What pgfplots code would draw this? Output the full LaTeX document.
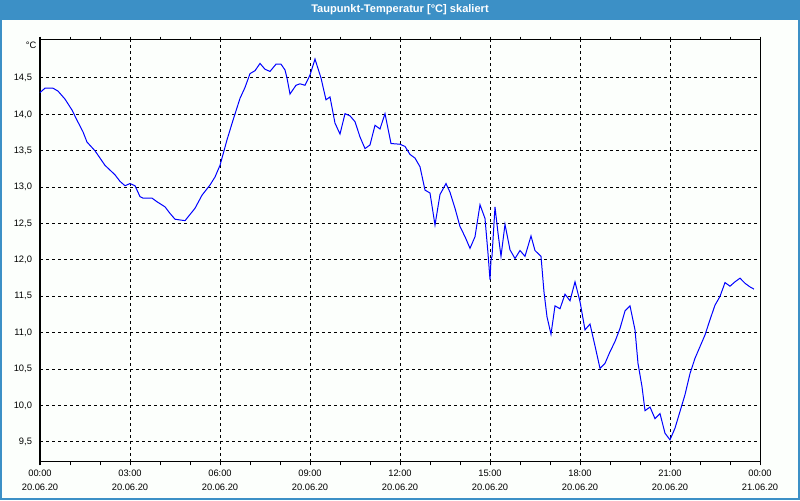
\documentclass[border=0pt]{standalone}
\usepackage{pgfplots}
\pgfplotsset{compat=1.18}
\usepackage{fontspec}
\setmainfont{Liberation Sans}
\definecolor{barblue}{RGB}{60,144,198}
\definecolor{bgc}{RGB}{252,255,252}
\begin{document}
\begin{tikzpicture}
\useasboundingbox (0,0) rectangle (600pt,375pt);
\fill[bgc] (0,0) rectangle (600pt,375pt);
\fill[barblue] (0,360pt) rectangle (600pt,375pt);
\draw[barblue, line width=1.5pt] (0.75pt,0.75pt) rectangle (599.25pt,374.25pt);
\node[text=white, font=\fontsize{8.3pt}{9pt}\selectfont\bfseries] at (300pt,367.5pt) {Taupunkt-Temperatur [°C] skaliert};
\begin{axis}[
  at={(30pt,28.5pt)}, anchor=south west,
  scale only axis, width=540pt, height=316.5pt,
  xmin=0, xmax=1440, ymin=9.225, ymax=15.022,
  axis line style={black, line width=0.75pt},
  xtick={0,180,...,1440},
  minor xtick={60,120,240,300,420,480,600,660,780,840,960,1020,1140,1200,1320,1380},
  xticklabels={{00:00\\20.06.20},{03:00\\20.06.20},{06:00\\20.06.20},{09:00\\20.06.20},{12:00\\20.06.20},{15:00\\20.06.20},{18:00\\20.06.20},{21:00\\20.06.20},{00:00\\21.06.20}},
  xticklabel style={align=center, font=\fontsize{7pt}{10.5pt}\selectfont},
  ytick={9.5,10,...,14.5},
  yticklabels={{9,5},{10,0},{10,5},{11,0},{11,5},{12,0},{12,5},{13,0},{13,5},{14,0},{14,5}},
  yticklabel style={font=\fontsize{7pt}{8pt}\selectfont},
  ytick style={draw=none},
  x tick style={black, line width=0.75pt},
  tick align=outside, major tick length=2.5pt, minor tick length=2.5pt,
  grid=major,
  major grid style={black, line width=0.75pt, dash pattern=on 2.25pt off 2.25pt},
  clip=false,
]
\addplot[blue, line width=0.75pt] coordinates {
(0,14.30)(10,14.36)(26,14.36)(36,14.32)(50,14.21)(64,14.06)(74,13.92)(86,13.76)(94,13.62)(110,13.50)
(120,13.40)(130,13.30)(150,13.17)(160,13.08)(170,13.02)(180,13.05)(190,13.02)(200,12.87)(206,12.85)(224,12.85)
(234,12.80)(250,12.73)(260,12.64)(270,12.56)(290,12.54)(310,12.71)(324,12.89)(340,13.03)(350,13.14)(360,13.30)
(374,13.65)(386,13.92)(400,14.22)(410,14.37)(420,14.56)(430,14.60)(440,14.70)(450,14.62)(460,14.59)(472,14.69)
(482,14.69)(490,14.61)(494,14.50)(500,14.28)(512,14.40)(520,14.42)(530,14.40)(540,14.54)(550,14.76)(562,14.50)
(572,14.20)(580,14.24)(590,13.88)(600,13.73)(610,14.01)(620,13.98)(630,13.90)(640,13.69)(650,13.53)(660,13.58)
(670,13.85)(680,13.80)(690,14.01)(702,13.60)(720,13.59)(730,13.56)(740,13.45)(750,13.40)(760,13.28)(770,12.96)
(780,12.92)(790,12.48)(800,12.90)(812,13.05)(820,12.93)(830,12.71)(840,12.46)(850,12.32)(860,12.16)(870,12.32)
(880,12.76)(890,12.57)(896,12.09)(900,11.73)(902,12.00)(904,12.05)(910,12.73)(916,12.37)(922,12.05)(930,12.49)
(940,12.14)(950,12.02)(960,12.13)(970,12.05)(982,12.33)(990,12.13)(1002,12.05)(1008,11.56)(1014,11.22)(1022,10.98)
(1030,11.37)(1040,11.33)(1050,11.53)(1060,11.44)(1070,11.70)(1080,11.43)(1090,11.04)(1100,11.12)(1110,10.82)(1120,10.51)
(1130,10.58)(1140,10.74)(1150,10.88)(1160,11.06)(1170,11.30)(1180,11.37)(1190,11.04)(1196,10.58)(1204,10.26)(1210,9.93)
(1220,9.98)(1230,9.82)(1240,9.89)(1250,9.62)(1260,9.53)(1270,9.69)(1280,9.92)(1290,10.15)(1300,10.44)(1310,10.65)
(1320,10.81)(1330,10.97)(1340,11.18)(1350,11.38)(1360,11.50)(1370,11.69)(1380,11.64)(1390,11.70)(1400,11.75)(1410,11.68)
(1420,11.63)(1428,11.60)
};
\node[anchor=north east, font=\fontsize{7pt}{8pt}\selectfont, inner sep=0pt] at ([xshift=-2.5pt,yshift=-1.5pt]rel axis cs:0,1) {°C};
\end{axis}
\end{tikzpicture}
\end{document}
